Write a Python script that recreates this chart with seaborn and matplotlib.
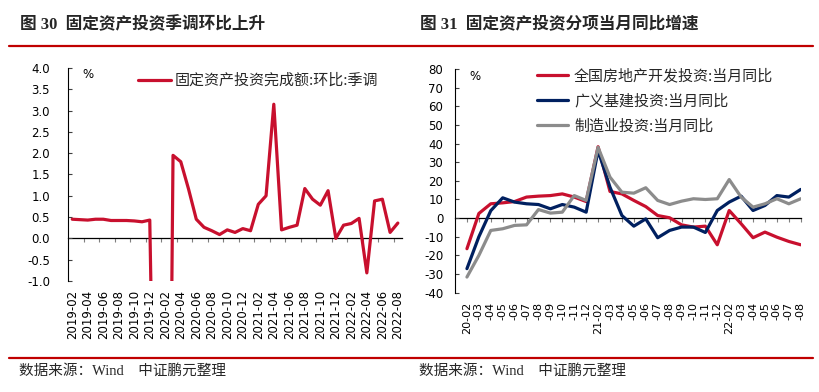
import numpy as np
import pandas as pd
import matplotlib
matplotlib.use('Agg')
import matplotlib.pyplot as plt
import seaborn as sns
from matplotlib.lines import Line2D

# 图30: 固定资产投资完成额:环比:季调 (%), 2019-02 ~ 2022-08
months_l = [p.strftime('%Y-%m') for p in pd.period_range('2019-02', '2022-08', freq='M')]
fai_mom = [0.45, 0.44, 0.43, 0.45, 0.45, 0.42, 0.42, 0.42, 0.41, 0.39, 0.43,
           -10.0, -18.0,
           1.95, 1.80, 1.16, 0.45, 0.26, 0.18, 0.09, 0.20, 0.14, 0.23,
           0.18, 0.80, 1.00, 3.15, 0.20, 0.26, 0.31, 1.17, 0.92, 0.78, 1.12, 0.00,
           0.31, 0.35, 0.47, -0.81, 0.88, 0.92, 0.14, 0.36]
yticks_l = [-1.0, -0.5, 0.0, 0.5, 1.0, 1.5, 2.0, 2.5, 3.0, 3.5, 4.0]

# 图31: 分项当月同比 (%), 1月与2月合并
months_r = ['20-02', '20-03', '20-04', '20-05', '20-06', '20-07', '20-08', '20-09', '20-10', '20-11', '20-12',
            '21-02', '21-03', '21-04', '21-05', '21-06', '21-07', '21-08', '21-09', '21-10', '21-11', '21-12',
            '22-02', '22-03', '22-04', '22-05', '22-06', '22-07', '22-08']
realestate = [-16.4, 2.5, 7.7, 8.2, 8.9, 11.3, 11.8, 12.1, 13.0, 11.3, 8.9,
              38.3, 14.3, 13.0, 9.5, 6.2, 1.4, 0.2, -3.6, -4.8, -4.3, -14.3,
              4.1, -3.0, -10.5, -7.5, -10.2, -12.5, -14.3]
infra = [-27.1, -10.0, 4.0, 10.9, 8.6, 7.7, 7.3, 5.0, 7.3, 5.9, 3.2,
         36.3, 16.6, 1.4, -4.3, -0.4, -10.5, -6.6, -4.8, -4.8, -7.7, 4.1,
         8.6, 11.8, 4.1, 6.8, 12.1, 11.3, 15.4]
manu = [-31.6, -20.0, -6.6, -5.7, -3.9, -3.6, 4.6, 2.7, 3.2, 12.1, 9.5,
        38.0, 22.0, 13.9, 13.4, 16.3, 9.5, 7.3, 9.1, 10.4, 10.0, 10.4,
        20.7, 11.3, 5.9, 7.7, 10.4, 7.7, 10.4]
series_r = ['全国房地产开发投资:当月同比', '广义基建投资:当月同比', '制造业投资:当月同比']
yticks_r = [-40, -30, -20, -10, 0, 10, 20, 30, 40, 50, 60, 70, 80]

RED = '#C8102E'
NAVY = '#002060'
GRAY = '#8C8C8C'
BAR = '#C00000'

sns.set_theme(style='ticks')
plt.rcParams['font.family'] = ['Noto Sans CJK SC', 'DejaVu Sans']
plt.rcParams['axes.unicode_minus'] = False

fig = plt.figure(figsize=(8.2, 3.92), dpi=100)
ax1 = fig.add_axes([0.0829, 0.2832, 0.4070, 0.5433])
ax2 = fig.add_axes([0.5549, 0.2533, 0.4216, 0.5707])

# ---- left chart
df_l = pd.DataFrame({'idx': np.arange(len(months_l)), 'val': fai_mom})
sns.lineplot(data=df_l, x='idx', y='val', ax=ax1, color=RED, lw=2.3,
             label='固定资产投资完成额:环比:季调', solid_joinstyle='round')
ax1.set_xlim(-0.55, 42.5)
ax1.set_ylim(-1.0, 4.0)

# ---- right chart
df_r = pd.DataFrame({'idx': np.arange(len(months_r)),
                     series_r[0]: realestate, series_r[1]: infra, series_r[2]: manu})
df_r = df_r.melt(id_vars='idx', var_name='series', value_name='val')
sns.lineplot(data=df_r, x='idx', y='val', hue='series', hue_order=series_r,
             palette=[RED, NAVY, GRAY], ax=ax2, lw=2.3, solid_joinstyle='round')
ax2.set_xlim(-1, 28)
ax2.set_ylim(-40, 80)

tick_font = 'DejaVu Sans'
for ax, yt, fmt, pad, zero_frac, zticks in [
        (ax1, yticks_l, '{:.1f}', 13, 0.2, np.arange(1.5, 42, 2)),
        (ax2, yticks_r, '{:.0f}', 8.4, 1 / 3, np.arange(0, 29))]:
    ax.set_xlabel('')
    ax.set_ylabel('')
    for s in ['top', 'right', 'bottom']:
        ax.spines[s].set_visible(False)
    ax.spines['left'].set_color('black')
    ax.spines['left'].set_linewidth(0.8)
    ax.set_yticks(yt)
    ax.set_yticklabels([fmt.format(v) for v in yt], fontsize=8.5, family=tick_font, color='black')
    ax.tick_params(axis='y', direction='in', length=3, width=0.8, color='#404040', pad=pad)
    # zero line with its own tick marks
    sec = ax.secondary_xaxis(zero_frac)
    sec.set_xticks(zticks)
    sec.tick_params(axis='x', direction='out', length=3, width=0.8, color='#7F7F7F',
                    labelbottom=False, labeltop=False)
    sec.spines['bottom'].set_color('black')
    sec.spines['bottom'].set_linewidth(0.9)
    ax.text(0.042, 0.968, '%', transform=ax.transAxes, fontsize=8.5, family=tick_font,
            ha='left', va='center', color='black')

ax1.set_xticks(np.arange(0, len(months_l), 2))
ax1.set_xticklabels(months_l[::2], fontsize=8.5, family=tick_font, rotation=90)
ax1.tick_params(axis='x', length=0, pad=6.5, colors='black')

labels_r = [m if m.endswith('-02') else m[2:] for m in months_r]
ax2.set_xticks(np.arange(len(months_r)))
ax2.set_xticklabels(labels_r, fontsize=8, family=tick_font, rotation=90)
ax2.tick_params(axis='x', length=0, pad=6.5, colors='black')

# legends
h, l = ax1.get_legend_handles_labels()
ax1.legend(h, l, loc='center left', bbox_to_anchor=(0.21, 0.939), frameon=False,
           fontsize=10.8, handlelength=2.2, handletextpad=0.25, borderpad=0, borderaxespad=0)
h, l = ax2.get_legend_handles_labels()
ax2.legend(h, l, loc='center left', bbox_to_anchor=(0.236, 0.857), frameon=False,
           fontsize=10.8, handlelength=2.1, handletextpad=0.4, labelspacing=0.72,
           borderpad=0, borderaxespad=0)

# titles, rules and source notes
title_font = ['Liberation Serif', 'Noto Sans CJK SC']
fig.text(20 / 820, 1 - 25 / 392, '图 30  固定资产投资季调环比上升', fontsize=12, weight='bold',
         family=title_font, ha='left', va='center')
fig.text(420 / 820, 1 - 25 / 392, '图 31  固定资产投资分项当月同比增速', fontsize=12, weight='bold',
         family=title_font, ha='left', va='center')
for yy in [1 - 46 / 392, 1 - 357.5 / 392]:
    fig.add_artist(Line2D([9 / 820, 813 / 820], [yy, yy], color=BAR, lw=1.6))
for xx in [19 / 820, 419 / 820]:
    fig.text(xx, 1 - 371 / 392, '数据来源：Wind    中证鹏元整理', fontsize=10.5,
             family=title_font, ha='left', va='center')

fig.savefig('out.png', dpi=100)
